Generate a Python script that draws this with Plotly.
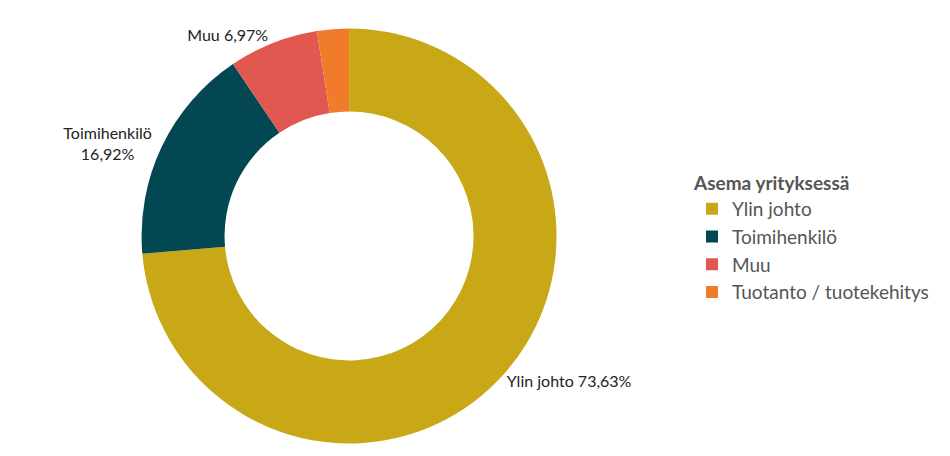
import plotly.graph_objects as go

labels = ["Ylin johto", "Toimihenkilö", "Muu", "Tuotanto / tuotekehitys"]
values = [73.63, 16.92, 6.97, 2.48]
slice_text = ["Ylin johto 73,63%", "Toimihenkilö<br>16,92%", "Muu 6,97%", ""]
colors = ["#C9A818", "#034752", "#E0584F", "#F07B2A"]

fig = go.Figure(go.Pie(
    labels=labels, values=values, text=slice_text,
    textinfo="text", textposition="outside",
    hole=0.6, sort=False, direction="clockwise", rotation=0,
    marker=dict(colors=colors, line=dict(color="white", width=0)),
    textfont=dict(family="Lato", size=16, color="#222"),
    domain=dict(x=[0.136, 0.582], y=[0.045, 0.955]),
    hoverinfo="label+percent",
))

fig.update_layout(
    width=950, height=456,
    margin=dict(l=0, r=0, t=0, b=0),
    paper_bgcolor="white",
    font=dict(family="Lato"),
    legend=dict(
        title=dict(text="<b>Asema yrityksessä</b>", font=dict(size=19, color="#555")),
        font=dict(size=19, color="#555"),
        x=0.72, y=0.655, xanchor="left", yanchor="top",
        itemsizing="constant",
    ),
    showlegend=True,
)

fig.write_html("out.html")
